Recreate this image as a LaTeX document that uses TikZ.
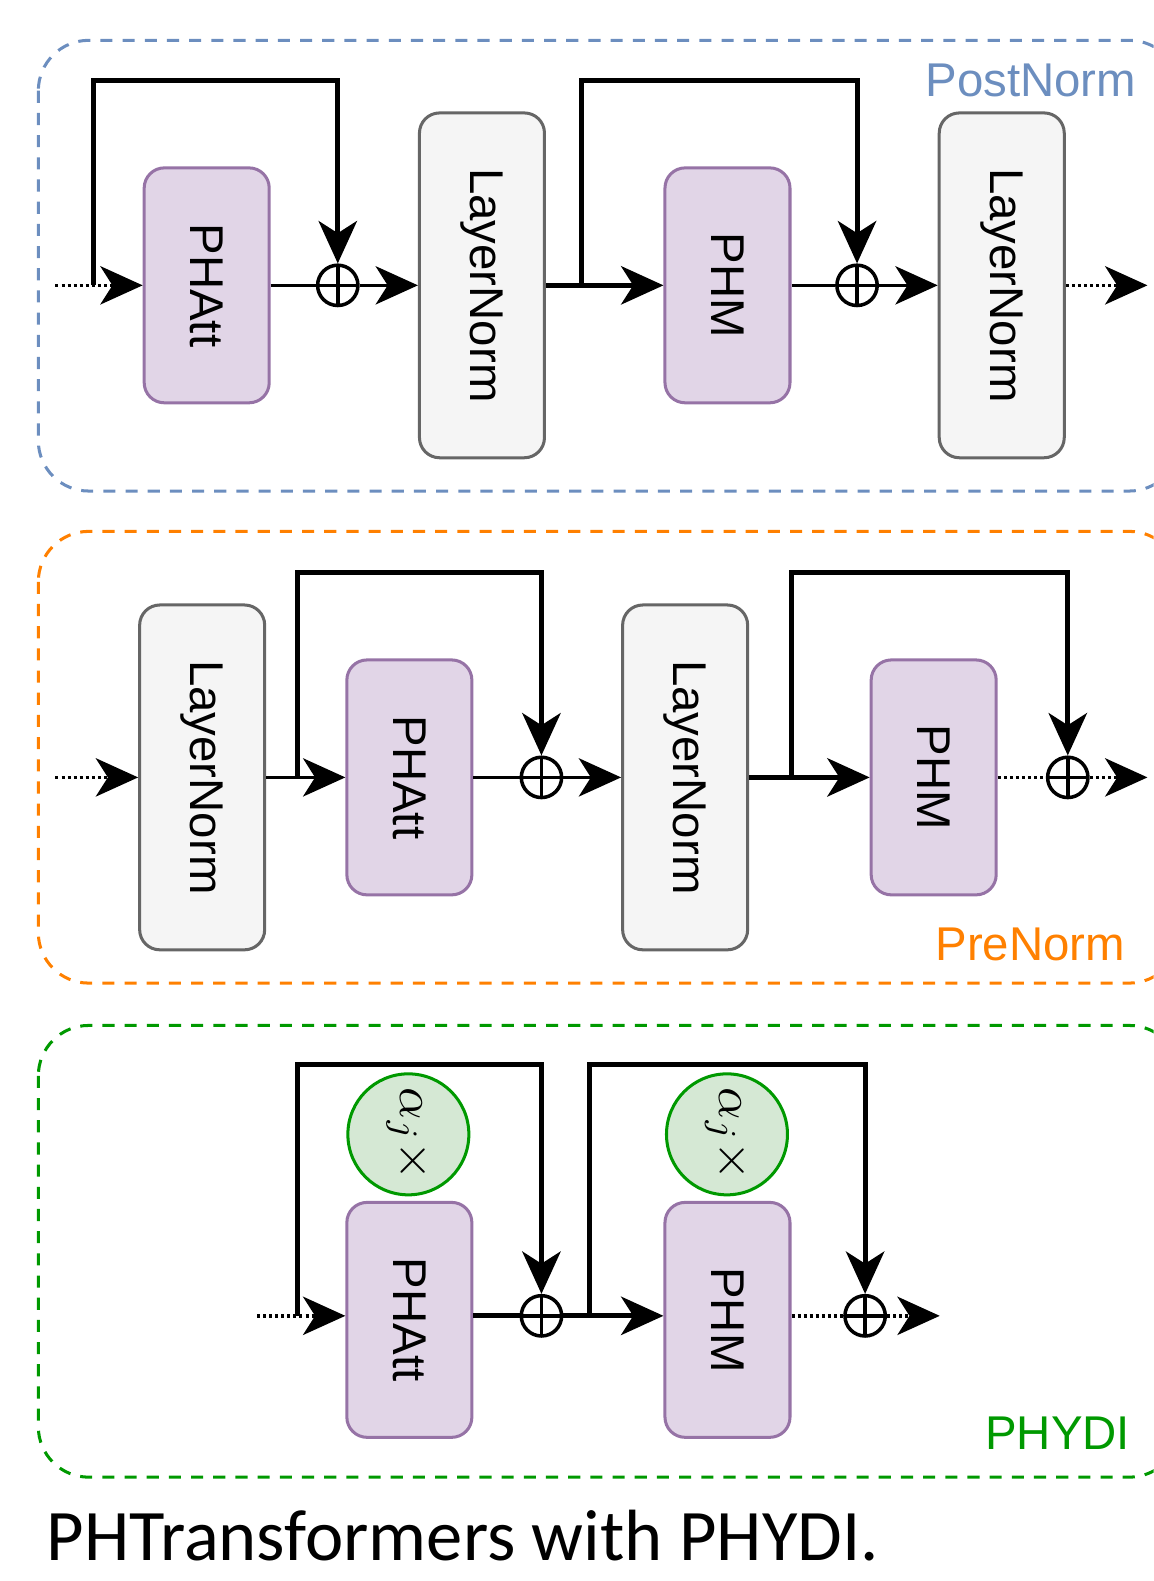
\documentclass[tikz,border=0pt]{standalone}
\usepackage{fontspec}
\usepackage{graphicx}
\setmainfont{Liberation Sans}
\newfontfamily\capfont{Carlito}
\usetikzlibrary{arrows.meta}
\definecolor{phfill}{HTML}{E1D5E7}
\definecolor{phdraw}{HTML}{9673A6}
\definecolor{lnfill}{HTML}{F5F5F5}
\definecolor{lndraw}{HTML}{666666}
\definecolor{alfill}{HTML}{D5E8D4}
\definecolor{aldraw}{HTML}{009900}
\definecolor{postc}{HTML}{6C8EBF}
\definecolor{prec}{HTML}{FF8000}
\definecolor{phydic}{HTML}{009900}
\tikzset{
  boxfont/.style={font=\fontsize{47}{50}\selectfont},
  phbox/.style={rectangle, rounded corners=20pt, draw=phdraw, fill=phfill, line width=3pt,
    minimum width=124pt, minimum height=233pt, inner sep=0pt, boxfont},
  lnbox/.style={rectangle, rounded corners=20pt, draw=lndraw, fill=lnfill, line width=3pt,
    minimum width=124pt, minimum height=342pt, inner sep=0pt, boxfont},
  albox/.style={circle, draw=aldraw, fill=alfill, line width=3pt, minimum size=120pt, inner sep=0pt},
  oplus/.style={circle, draw, line width=3.5pt, minimum size=40pt, inner sep=0pt,
    path picture={\draw[line width=3.5pt] (path picture bounding box.north) -- (path picture bounding box.south)
      (path picture bounding box.west) -- (path picture bounding box.east);}},
  arr/.style={-{Stealth[length=42pt,width=38pt,inset=12pt]}},
  mainln/.style={line width=3pt},
  thickln/.style={line width=5pt},
  skipln/.style={line width=5pt},
  dotln/.style={line width=3.5pt, dash pattern=on 3pt off 3pt},
  container/.style={line width=3pt, dash pattern=on 12pt off 10pt, rounded corners=50pt},
  lbl/.style={font=\fontsize{47}{50}\selectfont, inner sep=0pt, anchor=base east}
}
\begin{document}
\begin{tikzpicture}[x=1pt,y=-1pt]
\useasboundingbox (0,0) rectangle (1144,1568);
\clip (0,0) rectangle (1144,1568);

% containers
\draw[container, draw=postc] (38,40) rectangle (1170,487);
\draw[container, draw=prec] (38,527) rectangle (1170,975);
\draw[container, draw=phydic] (38,1017) rectangle (1170,1465);
\node[lbl, text=postc] (lpost) at (1127,96) {PostNorm};
\node[lbl, text=prec] (lpre) at (1116,953) {PreNorm};
\node[lbl, text=phydic] (lphydi) at (1121,1438) {PHYDI};

% ---------- PostNorm ----------
\node[phbox] (phatt1) at (205,283) {\rotatebox{-90}{PHAtt}};
\node[lnbox] (ln1) at (478,283) {\rotatebox{-90}{LayerNorm}};
\node[phbox] (phm1) at (721.5,283) {\rotatebox{-90}{PHM}};
\node[lnbox] (ln2) at (993.5,283) {\rotatebox{-90}{LayerNorm}};
\node[oplus] (op1) at (335,283) {};
\node[oplus] (op2) at (850,283) {};
\coordinate (in1) at (55,283);
\coordinate (s1) at (93,283);
\coordinate (t1) at (93,80);
\coordinate (s2) at (577,283);
\coordinate (t2) at (577,80);
\coordinate (out1) at (1138,283);
\draw[dotln, arr] (in1) -- (phatt1.west);
\draw[skipln, arr] (s1) -- (t1) -| (op1.north);
\draw[mainln] (phatt1.east) -- (op1.west);
\draw[mainln, arr] (op1.east) -- (ln1.west);
\draw[thickln, arr] (ln1.east) -- (phm1.west);
\draw[skipln, arr] (s2) -- (t2) -| (op2.north);
\draw[mainln] (phm1.east) -- (op2.west);
\draw[mainln, arr] (op2.east) -- (ln2.west);
\draw[dotln, arr] (ln2.east) -- (out1);

% ---------- PreNorm ----------
\node[lnbox] (ln3) at (200.5,771) {\rotatebox{-90}{LayerNorm}};
\node[phbox] (phatt2) at (406,771) {\rotatebox{-90}{PHAtt}};
\node[lnbox] (ln4) at (679.5,771) {\rotatebox{-90}{LayerNorm}};
\node[phbox] (phm2) at (926,771) {\rotatebox{-90}{PHM}};
\node[oplus] (op3) at (537,771) {};
\node[oplus] (op4) at (1059,771) {};
\coordinate (in2) at (55,771);
\coordinate (s3) at (295,771);
\coordinate (t3) at (295,568);
\coordinate (s4) at (785,771);
\coordinate (t4) at (785,568);
\coordinate (out2) at (1138,771);
\draw[dotln, arr] (in2) -- (ln3.west);
\draw[mainln, arr] (ln3.east) -- (phatt2.west);
\draw[skipln, arr] (s3) -- (t3) -| (op3.north);
\draw[mainln] (phatt2.east) -- (op3.west);
\draw[mainln, arr] (op3.east) -- (ln4.west);
\draw[thickln, arr] (ln4.east) -- (phm2.west);
\draw[skipln, arr] (s4) -- (t4) -| (op4.north);
\draw[dotln] (phm2.east) -- (op4.west);
\draw[dotln, arr] (op4.east) -- (out2);

% ---------- PHYDI ----------
\node[phbox] (phatt3) at (406,1309) {\rotatebox{-90}{PHAtt}};
\node[phbox] (phm3) at (721.5,1309) {\rotatebox{-90}{PHM}};
\node[albox] (al1) at (405,1125) {\rotatebox{-90}{\scalebox{5}{$\alpha_j\times$}}};
\node[albox] (al2) at (721,1125) {\rotatebox{-90}{\scalebox{5}{$\alpha_j\times$}}};
\node[oplus] (op5) at (537,1305) {};
\node[oplus] (op6) at (858,1305) {};
\coordinate (in3) at (255,1305);
\coordinate (s5) at (295,1305);
\coordinate (t5) at (295,1056);
\coordinate (s6) at (585,1305);
\coordinate (t6) at (585,1056);
\coordinate (out3) at (932,1305);
\draw[dotln, arr] (in3) -- (phatt3.west |- in3);
\draw[skipln, arr] (s5) -- (t5) -| (op5.north);
\draw[thickln] (phatt3.east |- op5) -- (op5.west);
\draw[thickln, arr] (op5.east) -- (phm3.west |- op5);
\draw[skipln, arr] (s6) -- (t6) -| (op6.north);
\draw[dotln] (phm3.east |- op6) -- (op6.west);
\draw[dotln, arr] (op6.east) -- (out3);

% caption
\node[inner sep=0pt, anchor=base west, font=\capfont\fontsize{72}{74}\selectfont] (cap) at (46,1548) {PHTransformers with PHYDI.};
\end{tikzpicture}
\end{document}
